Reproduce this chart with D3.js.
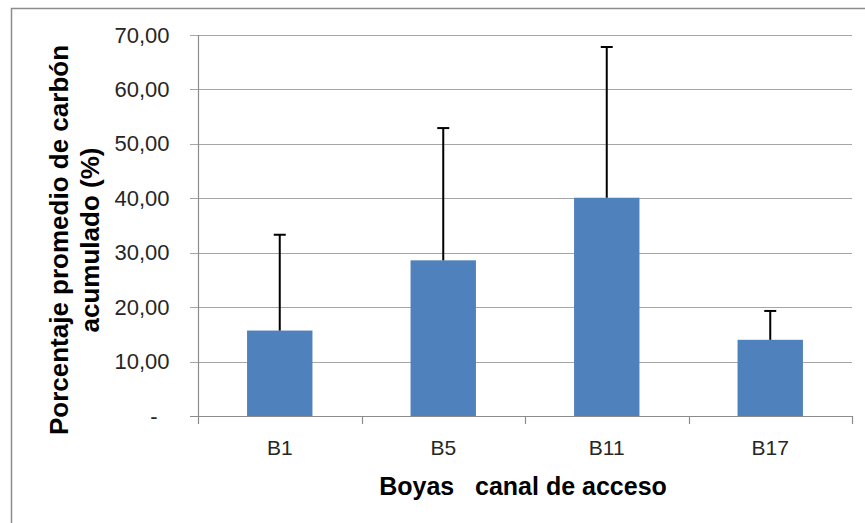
<!DOCTYPE html>
<html>
<head>
<meta charset="utf-8">
<script src="https://cdn.jsdelivr.net/npm/d3@7"></script>
<style>
  body { margin: 0; background: #fff; }
  svg { display: block; }
</style>
</head>
<body>
<svg id="chart_svg" width="865" height="523"></svg>
<script>
// data
const categories = ["B1", "B5", "B11", "B17"];
const means = [15.7, 28.6, 40.1, 14.0];
const upperError = [17.6, 24.3, 27.7, 5.3];
const yTicks = [0, 10, 20, 30, 40, 50, 60, 70];

const svg = d3.select("#chart_svg");
const width = 865, height = 523;

const margin = { top: 35, bottom: 107, left: 198, right: 13 };
const tickFont = "'Liberation Sans', Arial, sans-serif";

// outer frame (right and bottom edges fall off the picture)
svg.append("rect")
  .attr("x", 11.5).attr("y", 8.5)
  .attr("width", width).attr("height", height)
  .attr("fill", "none")
  .attr("stroke", "#8c8c8c")
  .attr("stroke-width", 1.5);

const xScale = d3.scaleBand()
  .domain(categories)
  .range([margin.left, width - margin.right])
  .paddingInner(0.6)
  .paddingOuter(0.3);

const yScale = d3.scaleLinear()
  .domain([0, 70])
  .range([height - margin.bottom, margin.top]);

const fmt = v => v === 0 ? "-" : d3.format(".2f")(v).replace(".", ",");

// gridlines
svg.append("g")
  .selectAll("line")
  .data(yTicks)
  .enter()
  .append("line")
  .attr("x1", margin.left - 8)
  .attr("x2", width - margin.right)
  .attr("y1", d => Math.round(yScale(d)) + 0.5)
  .attr("y2", d => Math.round(yScale(d)) + 0.5)
  .attr("stroke", "#a6a6a6")
  .attr("stroke-width", 1.2);

// y axis
let y_axis = d3.axisLeft(yScale).tickValues(yTicks).tickFormat(fmt).tickSize(8).tickPadding(21);
let g_y = svg.append("g")
  .attr("transform", "translate(" + (margin.left + 0.5) + ",0)")
  .call(y_axis);
g_y.select(".domain").attr("stroke", "#8c8c8c").attr("stroke-width", 1.2).attr("d", "M0," + yScale(70) + "V" + (yScale(0) + 8));
g_y.selectAll(".tick line").attr("stroke", "none");
g_y.selectAll("text")
  .attr("font-family", tickFont)
  .attr("font-size", 22)
  .attr("fill", "#262626");
// accounting-style dash for zero sits further left
g_y.selectAll(".tick").filter(d => d === 0).select("text").attr("x", -41);

// x axis: ticks at category boundaries
const boundaries = d3.range(categories.length + 1).map(i => margin.left + i * (width - margin.right - margin.left) / categories.length);
svg.append("g")
  .selectAll("line")
  .data(boundaries.slice(1))
  .enter()
  .append("line")
  .attr("x1", d => Math.round(d) + 0.5)
  .attr("x2", d => Math.round(d) + 0.5)
  .attr("y1", yScale(0))
  .attr("y2", yScale(0) + 8)
  .attr("stroke", "#8c8c8c")
  .attr("stroke-width", 1.2);

svg.append("g")
  .selectAll("text")
  .data(categories)
  .enter()
  .append("text")
  .attr("x", d => xScale(d) + xScale.bandwidth() / 2)
  .attr("y", 455)
  .attr("text-anchor", "middle")
  .attr("font-family", tickFont)
  .attr("font-size", 21)
  .attr("fill", "#262626")
  .text(d => d);

// bars
svg.append("g")
  .selectAll("rect")
  .data(categories)
  .enter()
  .append("rect")
  .attr("x", d => xScale(d))
  .attr("y", (d, i) => yScale(means[i]))
  .attr("width", xScale.bandwidth())
  .attr("height", (d, i) => yScale(0) - yScale(means[i]))
  .attr("fill", "#4f81bd");

// error bars (upper only)
let g_err = svg.append("g");
categories.forEach((c, i) => {
  const cx = xScale(c) + xScale.bandwidth() / 2;
  const top = yScale(means[i] + upperError[i]);
  g_err.append("line")
    .attr("x1", cx).attr("x2", cx)
    .attr("y1", yScale(means[i])).attr("y2", top)
    .attr("stroke", "#000").attr("stroke-width", 2);
  g_err.append("line")
    .attr("x1", cx - 6).attr("x2", cx + 6)
    .attr("y1", top).attr("y2", top)
    .attr("stroke", "#000").attr("stroke-width", 2);
});

// x axis base line
svg.append("line")
  .attr("x1", margin.left - 8)
  .attr("x2", width - margin.right)
  .attr("y1", Math.round(yScale(0)) + 0.5)
  .attr("y2", Math.round(yScale(0)) + 0.5)
  .attr("stroke", "#8c8c8c")
  .attr("stroke-width", 1.2);

// axis titles
svg.append("text")
  .attr("x", 523)
  .attr("y", 495)
  .attr("text-anchor", "middle")
  .attr("font-family", "'Liberation Sans', Arial, sans-serif")
  .attr("font-weight", "bold")
  .attr("font-size", 25)
  .attr("fill", "#000")
  .style("white-space", "pre")
  .text("Boyas   canal de acceso");

let y_label = svg.append("text")
  .attr("transform", "translate(68,240) rotate(-90)")
  .attr("text-anchor", "middle")
  .attr("font-family", "'Liberation Sans', Arial, sans-serif")
  .attr("font-weight", "bold")
  .attr("font-size", 26)
  .attr("fill", "#000");
y_label.append("tspan").attr("x", 0).attr("y", 0).text("Porcentaje promedio de carbón");
y_label.append("tspan").attr("x", 0).attr("y", 31).text("acumulado (%)");
</script>
</body>
</html>
